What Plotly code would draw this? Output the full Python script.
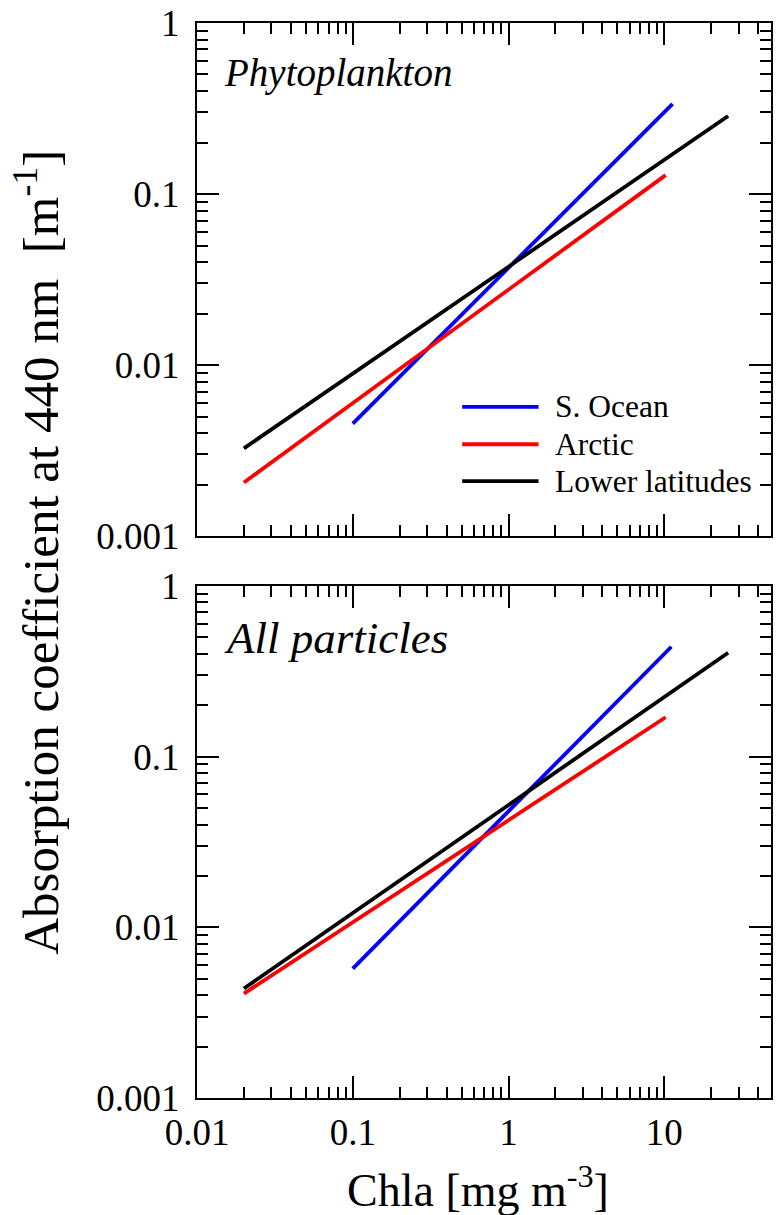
import plotly.graph_objects as go

# ---- data (endpoints of the fitted power-law lines) ----
series_names = ["S. Ocean", "Arctic", "Lower latitudes"]
series_colors = ["#0000ff", "#ff0000", "#000000"]

# Phytoplankton panel
phyto_chla = {"S. Ocean": [0.1, 11.3], "Arctic": [0.02, 10.2], "Lower latitudes": [0.02, 25.7]}
phyto_abs = {"S. Ocean": [0.00455, 0.337], "Arctic": [0.00206, 0.129], "Lower latitudes": [0.00326, 0.286]}

# All particles panel
part_chla = {"S. Ocean": [0.1, 11.1], "Arctic": [0.02, 10.2], "Lower latitudes": [0.02, 25.7]}
part_abs = {"S. Ocean": [0.00573, 0.44], "Arctic": [0.00409, 0.170], "Lower latitudes": [0.00438, 0.406]}

x_tickvals = [0.01, 0.1, 1, 10]
x_ticktext = ["0.01", "0.1", "1", "10"]
y_tickvals = [0.001, 0.01, 0.1, 1]
y_ticktext = ["0.001", "0.01", "0.1", "1"]

panel_titles = ["Phytoplankton", "All particles"]
panel_title_sizes = [39, 45]

# ---- figure ----
FONT = "Liberation Serif, Times New Roman, serif"
fig = go.Figure()

for name, col in zip(series_names, series_colors):
    fig.add_trace(go.Scatter(x=phyto_chla[name], y=phyto_abs[name], mode="lines",
                             line=dict(color=col, width=3.8), xaxis="x", yaxis="y",
                             showlegend=False, name=name))
    fig.add_trace(go.Scatter(x=part_chla[name], y=part_abs[name], mode="lines",
                             line=dict(color=col, width=3.8), xaxis="x2", yaxis="y2",
                             showlegend=False, name=name))

axis_common = dict(type="log", showline=True, linecolor="black", linewidth=2,
                   mirror="allticks", ticks="inside", ticklen=22, tickwidth=2,
                   tickcolor="black", showgrid=False, zeroline=False,
                   tickfont=dict(family=FONT, size=37, color="black"),
                   minor=dict(ticks="inside", ticklen=11, tickwidth=2,
                              tickcolor="black", showgrid=False, dtick="D1"))

xr = [-2, 1.685]
yr = [-3, 0]

fig.update_layout(
    width=776, height=1215,
    margin=dict(l=197, r=3, t=19, b=117),
    paper_bgcolor="white", plot_bgcolor="white",
    xaxis=dict(axis_common, range=xr, domain=[0, 1], anchor="y",
               tickvals=x_tickvals, ticktext=x_ticktext, showticklabels=False),
    yaxis=dict(axis_common, range=yr, domain=[0.5227, 1], anchor="x",
               tickvals=y_tickvals, ticktext=y_ticktext, ticklabelstandoff=8),
    xaxis2=dict(axis_common, range=xr, domain=[0, 1], anchor="y2",
                tickvals=x_tickvals, ticktext=x_ticktext, ticklabelstandoff=1),
    yaxis2=dict(axis_common, range=yr, domain=[0, 0.4764], anchor="x2",
                tickvals=y_tickvals, ticktext=y_ticktext, ticklabelstandoff=8),
    showlegend=False,
)

annotations = []
# panel titles
for i, (t, sz) in enumerate(zip(panel_titles, panel_title_sizes)):
    annotations.append(dict(text="<i>" + t + "</i>",
                            xref="x domain" if i == 0 else "x2 domain",
                            yref="y domain" if i == 0 else "y2 domain",
                            x=0.043, y=0.95, xanchor="left", yanchor="top",
                            showarrow=False,
                            font=dict(family=FONT, size=sz, color="black")))

# axis titles
annotations.append(dict(text="Absorption coefficient at 440 nm\u00a0\u00a0[m<sup>-1</sup>]",
                        xref="paper", yref="paper", x=-0.279, y=0.508, xanchor="center",
                        yanchor="middle", textangle=-90, showarrow=False,
                        font=dict(family=FONT, size=51, color="black")))
annotations.append(dict(text="Chla [mg m<sup>-3</sup>]", xref="paper", yref="paper",
                        x=0.49, y=-0.083, xanchor="center", yanchor="middle", showarrow=False,
                        font=dict(family=FONT, size=46, color="black")))

# manual legend in the top panel
leg_y = [0.252, 0.179, 0.107]
shapes = []
for name, col, ly in zip(series_names, series_colors, leg_y):
    shapes.append(dict(type="line", xref="x domain", yref="y domain",
                       x0=0.462, x1=0.595, y0=ly, y1=ly,
                       line=dict(color=col, width=3.8)))
    annotations.append(dict(text=name, xref="x domain", yref="y domain", x=0.62, y=ly,
                            xanchor="left", yanchor="middle", showarrow=False,
                            font=dict(family=FONT, size=31.5, color="black")))

fig.update_layout(annotations=annotations, shapes=shapes)

fig.write_html("out.html")
